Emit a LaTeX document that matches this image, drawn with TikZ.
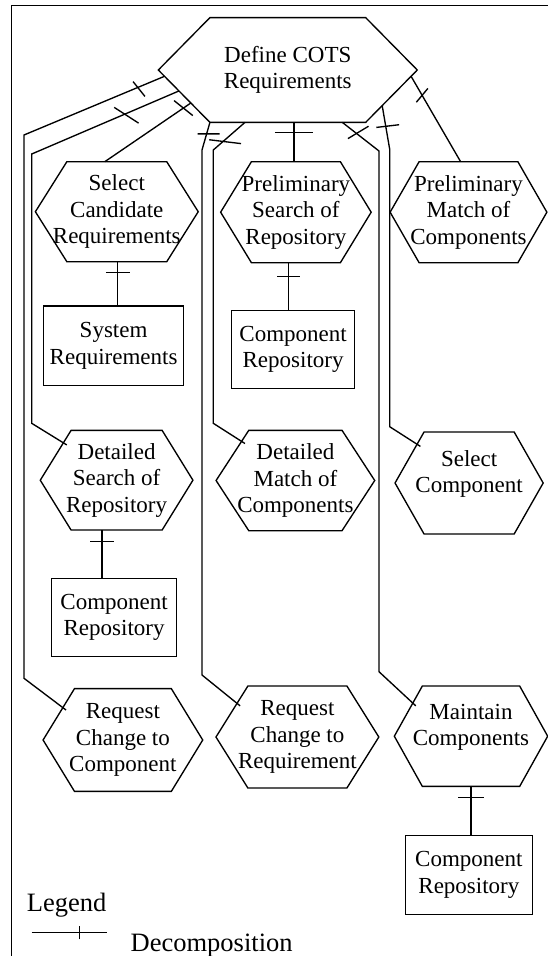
\documentclass[tikz,border=0pt]{standalone}
\usepackage{fontspec}
\setmainfont{Liberation Serif}
\usetikzlibrary{calc,decorations.markings}

\begin{document}
\begin{tikzpicture}[x=1pt, y=-1pt, line width=1.35pt,
  hexa/.style={inner sep=0pt, align=center, font=\fontsize{23}{26.5}\selectfont},
  store/.style={draw, inner sep=0pt, align=center, font=\fontsize{23}{26.5}\selectfont},
  legendtext/.style={anchor=west, inner sep=0pt, font=\fontsize{26.5}{30}\selectfont},
  link/.style={shorten >=-4pt},
  tick/.style n args={3}{postaction={decorate, decoration={markings,
      mark=at position #1 with {\draw[rotate=#2] (0,-#3) -- (0,#3);}}}}]
  \useasboundingbox (0,0) rectangle (548,956);
  \draw[line width=1.7pt] (11.5,956) -- (11.5,5.6) -- (548,5.6);

  % activities and stores
  \node[hexa, minimum width=257.6pt, minimum height=103.4pt] (def) at (287.8,70) {Define COTS\\Requirements};
  \node[hexa, minimum width=161.5pt, minimum height=98.7pt] (selc) at (116.8,211.7) {Select\\Candidate\\Requirements};
  \node[hexa, minimum width=149.2pt, minimum height=99.7pt] (pres) at (295.9,212.2) {Preliminary\\Search of\\Repository};
  \node[hexa, minimum width=155.4pt, minimum height=99.7pt] (prem) at (468.5,212.2) {Preliminary\\Match of\\Components};
  \node[store, minimum width=139.8pt, minimum height=79.7pt] (sysreq) at (113.6,345.8) {System\\Requirements};
  \node[store, minimum width=123.4pt, minimum height=77.6pt] (crep1) at (293.1,349.5) {Component\\Repository};
  \node[hexa, minimum width=151.3pt, minimum height=98.3pt] (dsr) at (116.6,480.2) {Detailed\\Search of\\Repository};
  \node[hexa, minimum width=157.3pt, minimum height=99pt] (dmc) at (295.4,480.5) {Detailed\\Match of\\Components};
  \node[hexa, minimum width=146.8pt, minimum height=100.6pt] (scomp) at (469.1,483) {Select\\Component\\[-4pt]\mbox{}};
  \node[store, minimum width=124.8pt, minimum height=78.4pt] (crep2) at (114.1,617.5) {Component\\Repository};
  \node[hexa, minimum width=158.3pt, minimum height=101.4pt] (rcc) at (122.9,740) {Request\\Change to\\Component};
  \node[hexa, minimum width=161.5pt, minimum height=100.6pt] (rcr) at (297.4,737) {Request\\Change to\\Requirement};
  \node[hexa, minimum width=152pt, minimum height=99pt] (mc) at (471,736.2) {Maintain\\Components\\[-4pt]\mbox{}};
  \node[store, minimum width=126.8pt, minimum height=78.6pt] (crep3) at (468.9,875) {Component\\Repository};

  % hexagon outlines
  \foreach \n/\s in {def/51.6, selc/31.5, pres/30.8, prem/29, dsr/30.8, dmc/32.7, scomp/29, rcc/31.4, rcr/31.9, mc/28}
    \draw (\n.west) coordinate (\n-w)
      -- ([xshift=\s pt]\n.north west) coordinate (\n-nw)
      -- ([xshift=-\s pt]\n.north east) coordinate (\n-ne)
      -- (\n.east) coordinate (\n-e)
      -- ([xshift=-\s pt]\n.south east) coordinate (\n-se)
      -- ([xshift=\s pt]\n.south west) coordinate (\n-sw) -- cycle;

  % decomposition links, left
  \draw[link, tick={29pt}{16}{7.5pt}] ($(def-w)!0.12!(def-sw)$) -- (24,135) -- (24,678.3) -- ($(rcc-w)!0.63!(rcc-nw)$);
  \draw[link, tick={59pt}{34}{12.5pt}] ($(def-w)!0.40!(def-sw)$) -- (31.7,154) -- (31.7,423.3) -- ($(dsr-w)!0.75!(dsr-nw)$);
  \draw[tick={9pt}{17}{12pt}] ($(def-w)!0.63!(def-sw)$) -- ($(selc-nw)!0.38!(selc-ne)$);
  % middle
  \draw[tick={10pt}{0}{19pt}] ($(pres.north |- def.south)+(-2,0)$) -- ($(pres.north)+(-2,0)$);
  \draw[link, tick={12pt}{16}{9pt}] (def-sw) -- (202,150) -- (202,675) -- ($(rcr-w)!0.66!(rcr-nw)$);
  \draw[link, tick={29pt}{42}{14pt}] ($(def-sw)!0.225!(def-se)$) -- (213.3,150) -- (213.3,423.3) -- ($(dmc-w)!0.78!(dmc-nw)$);
  % right
  \draw[link, tick={18pt}{-21}{10pt}] ($(def-sw)!0.85!(def-se)$) -- (379,151) -- (379,671.7) -- ($(mc-w)!0.66!(mc-nw)$);
  \draw[link, tick={21pt}{-3}{9.5pt}] ($(def-se)!0.32!(def-e)$) -- (389.7,149.3) -- (389.7,426.7) -- ($(scomp-w)!0.76!(scomp-nw)$);
  \draw[tick={22pt}{20}{9pt}] ($(def-se)!0.88!(def-e)$) -- ($(prem-nw)!0.42!(prem-ne)$);

  % activity to store
  \draw[tick={10.7pt}{0}{12pt}] ($(selc.south)+(1,0)$) -- ($(selc.south |- sysreq.north)+(1,0)$);
  \draw[tick={13.7pt}{0}{11.7pt}] ($(pres.south)+(-7.2,0)$) -- ($(pres.south |- crep1.north)+(-7.2,0)$);
  \draw[tick={11.7pt}{0}{11.7pt}] ($(dsr.south)+(-14.6,0)$) -- ($(dsr.south |- crep2.north)+(-14.6,0)$);
  \draw[tick={11pt}{0}{13pt}] (mc.south) -- (mc.south |- crep3.north);

  % legend
  \node[legendtext] (legend) at (26.2,905) {Legend};
  \coordinate (lg-a) at (31.5,932.7);
  \coordinate (lg-b) at (106.6,932.7);
  \draw[tick={48.2pt}{0}{6.6pt}] (lg-a) -- (lg-b);
  \node[legendtext] (decomp) at (130,945.7) {Decomposition};
\end{tikzpicture}
\end{document}
